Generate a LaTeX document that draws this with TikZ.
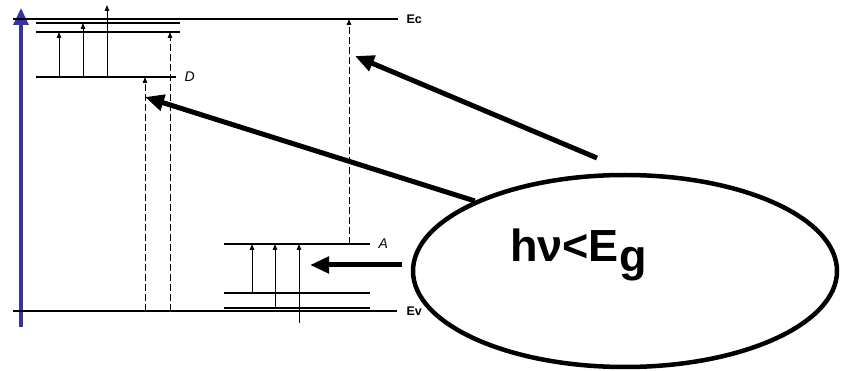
\documentclass[tikz,border=0pt]{standalone}
\usepackage{fontspec}
\setmainfont{Liberation Sans}
\usetikzlibrary{arrows.meta,positioning,shapes.geometric,backgrounds}
\definecolor{bluec}{HTML}{3434A6}
\tikzset{
  lvl/.style={line width=1.2pt},
  up/.style={-{Triangle[length=6pt,width=4.5pt]},line width=0.9pt},
  dup/.style={up,dash pattern=on 7pt off 3pt},
  big/.style={-{Triangle[length=19pt,width=16pt]},line width=5pt},
  lab/.style={font=\bfseries\fontsize{12.5}{12.5}\selectfont,inner sep=0pt},
  ilab/.style={font=\itshape\fontsize{14}{14}\selectfont,inner sep=0pt}
}
\begin{document}
\begin{tikzpicture}[x=1pt,y=-1pt]
\useasboundingbox (0,0) rectangle (841,371);
% energy axis
\draw[bluec,line width=3.5pt,-{Triangle[length=17pt,width=15pt]}] (21,327) -- (21,8);
% levels
\coordinate (Ec) at (13,19);
\coordinate (Ev) at (13,311);
\coordinate (c1) at (36,23);
\coordinate (c2) at (36,32);
\coordinate (D) at (36,77);
\coordinate (A) at (224,244);
\coordinate (a1) at (224,293);
\coordinate (a2) at (224,308);
\draw[lvl] (Ec) -- ++(385,0) node[lab,right=8pt] (ecl) {Ec};
\draw[lvl] (Ev) -- ++(384,0) node[lab,right=9pt] (evl) {Ev};
\draw[lvl] (c1) -- ++(144,0);
\draw[lvl] (c2) -- ++(144,0);
\draw[lvl] (D) -- ++(140,0) node[ilab,right=8pt] (dl) {D};
\draw[lvl] (A) -- ++(146,0) node[ilab,right=8pt] (al) {A};
\draw[lvl] (a1) -- ++(146,0);
\draw[lvl] (a2) -- ++(146,0);
% transitions
\coordinate (tp) at (107,5);
\coordinate (bt) at (299,323);
\foreach \x/\f/\t in {59/D/c2, 83/D/c1, 252/a1/A, 275/a2/A}
  \draw[up] (\x,0 |- \f) -- (\x,0 |- \t);
\draw[up] (107,0 |- D) -- (tp);
\draw[up] (bt) -- (299,0 |- A);
\foreach \x/\f/\t in {145/Ev/D, 170/Ev/c2, 349/A/Ec}
  \draw[dup] (\x,0 |- \f) -- (\x,0 |- \t);
% photon
\node[ellipse,draw,line width=4.5pt,fill=white,minimum width=424pt,minimum height=192pt,inner sep=0pt] (hv) at (625,271) {};
\node[anchor=base west,font=\bfseries\fontsize{45}{45}\selectfont,inner sep=0pt] (eq) at (510,262) {hν<E\raisebox{-10pt}{g}};
\coordinate (t1) at (597,158);
\coordinate (h1) at (355,56);
\coordinate (h2) at (145,97);
\coordinate (t3) at (402,265);
\coordinate (h3) at (310,265);
\draw[big] (t1) -- (h1);
\draw[big] (t3) -- (h3);
\begin{scope}[on background layer]
\draw[big] (hv.155) -- (h2);
\end{scope}
\end{tikzpicture}
\end{document}
